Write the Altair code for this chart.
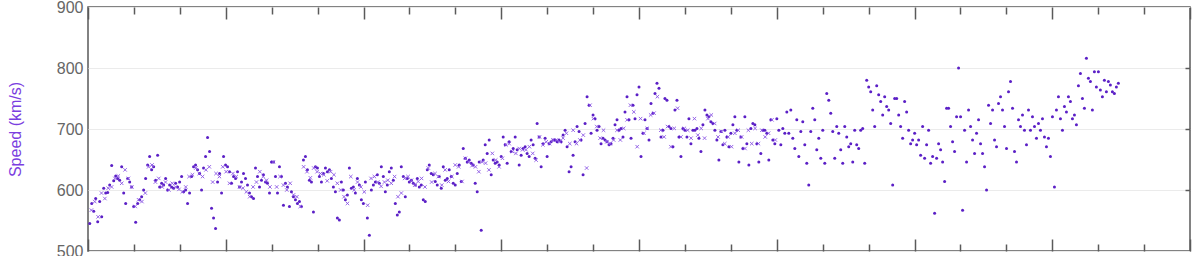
import altair as alt
import pandas as pd

# Solar-wind speed samples (km/s), six consecutive ~30 h stretches
seg1 = [545, 578, 565, 586, 548, 581, 556, 603, 595, 596, 608, 640, 615, 623, 619,
        616, 638, 595, 578, 619, 613, 605, 573, 547, 578, 584, 589, 600, 619, 641,
        655, 633, 638, 616, 657, 605, 611, 608, 619, 600, 608, 605, 603, 611, 605,
        613, 622, 597, 600, 578, 595, 622, 638, 641, 633, 627, 600, 636, 655, 686,
        663, 570, 554, 537, 613, 627, 595, 655, 641, 638, 630, 611, 622, 619, 630,
        605, 613, 627, 619, 608, 595, 589, 586, 636, 622, 605]
seg2 = [616, 625, 613, 611, 595, 646, 646, 622, 595, 638, 622, 575, 611, 605, 573,
        597, 589, 584, 578, 581, 573, 649, 655, 633, 616, 613, 564, 638, 636, 622,
        613, 627, 636, 630, 633, 619, 605, 597, 554, 551, 613, 600, 584, 592, 636,
        603, 605, 595, 619, 608, 584, 578, 613, 554, 526, 600, 608, 613, 625, 611,
        638, 622, 597, 608, 630, 636, 616, 578, 559, 564, 638, 622, 589, 619, 613,
        616, 611, 608, 619, 605, 608, 584, 581, 633, 641, 627]
seg3 = [625, 614, 608, 622, 603, 638, 616, 619, 633, 622, 611, 608, 627, 641, 614,
        668, 652, 646, 649, 644, 641, 611, 597, 646, 534, 649, 674, 660, 682, 625,
        649, 644, 646, 641, 655, 687, 674, 644, 679, 663, 668, 687, 666, 641, 657,
        668, 671, 660, 655, 682, 674, 652, 709, 687, 638, 676, 685, 655, 676, 679,
        682, 682, 679, 682, 679, 690, 698, 671, 630, 638, 657, 679, 704, 696, 682,
        625, 709, 753, 739, 693, 723, 717, 698, 704, 676, 685]
seg4 = [682, 679, 674, 676, 685, 707, 715, 698, 701, 687, 728, 753, 715, 685, 739,
        717, 756, 769, 655, 693, 715, 701, 682, 742, 726, 758, 775, 767, 687, 698,
        750, 747, 704, 701, 671, 731, 747, 687, 655, 701, 698, 687, 717, 676, 698,
        698, 701, 685, 663, 707, 731, 723, 720, 712, 709, 698, 682, 649, 696, 674,
        698, 687, 671, 693, 707, 720, 698, 646, 687, 668, 720, 676, 641, 701, 709,
        707, 676, 646, 660, 698, 698, 693, 649, 715, 682, 676]
seg5 = [717, 698, 674, 701, 693, 728, 693, 731, 685, 668, 715, 655, 696, 712, 674,
        644, 608, 696, 734, 715, 666, 685, 652, 698, 644, 758, 747, 726, 696, 652,
        704, 693, 666, 644, 704, 687, 671, 676, 646, 698, 674, 668, 698, 701, 644,
        780, 769, 761, 731, 704, 771, 756, 745, 723, 753, 737, 731, 709, 608, 750,
        750, 723, 704, 685, 745, 728, 698, 676, 682, 693, 674, 682, 657, 704, 652,
        674, 698, 644, 655, 562, 652, 676, 666, 646, 614, 734]
seg6 = [734, 704, 679, 663, 720, 800, 720, 567, 698, 646, 731, 704, 682, 660, 693,
        715, 676, 660, 638, 600, 739, 709, 731, 682, 671, 742, 753, 731, 704, 668,
        761, 778, 734, 663, 646, 715, 704, 723, 698, 674, 731, 698, 720, 704, 685,
        709, 698, 717, 687, 671, 685, 655, 720, 605, 731, 753, 717, 698, 737, 728,
        753, 745, 717, 723, 707, 771, 791, 750, 734, 816, 783, 778, 731, 794, 769,
        794, 764, 753, 780, 761, 778, 772, 761, 758, 769, 775]

# second instrument (drawn as small crosses), first four stretches only
cross1 = [567, 581, 556, 595, 586, 603, 605, 619, 623, 611, 633, 619, 605, 573, 584,
          581, 595, 638, 641, 613, 619, 605, 613, 600, 611, 605, 601, 597, 605, 622,
          625, 636, 627, 622, 633, 638, 613, 627, 622, 638, 630, 611, 627, 622, 605,
          603, 597, 589, 605, 613, 630]
cross2 = [622, 616, 605, 646, 605, 622, 608, 600, 611, 592, 589, 573, 638, 630, 620,
          636, 630, 627, 625, 615, 630, 625, 611, 600, 589, 578, 622, 600, 613, 605,
          597, 575, 619, 622, 613, 606, 613, 616, 611, 622, 589, 595, 619, 622, 616,
          608, 614, 619, 605, 636, 613]
cross3 = [627, 622, 608, 633, 614, 622, 641, 638, 614, 652, 646, 640, 638, 630, 646,
          644, 633, 660, 649, 638, 652, 674, 676, 663, 660, 668, 666, 666, 671, 660,
          649, 687, 674, 679, 676, 682, 682, 679, 685, 693, 676, 698, 676, 682, 690,
          636, 739, 717, 704, 685, 698]
cross4 = [679, 676, 682, 698, 682, 701, 715, 739, 728, 671, 717, 693, 701, 723, 726,
          753, 698, 687, 704, 671, 701, 734, 687, 701, 698, 685, 717, 690, 701, 685,
          717, 723, 709, 687, 696, 676, 687, 671, 693, 698, 687, 668, 698, 676, 701,
          676, 698, 687, 693, 715, 682]

speed = seg1 + seg2 + seg3 + seg4 + seg5 + seg6
speed_x = cross1 + cross2 + cross3 + cross4
sample_hours = 0.348          # sampling interval of the dot series (hours)
cross_hours = 0.587           # sampling interval of the cross series (hours)
first_hour = 0.3
hours = [first_hour + i * sample_hours for i in range(len(speed))]
hours_x = [first_hour + 0.29 + i * cross_hours for i in range(len(speed_x))]

major_ticks = [0, 24, 48, 72, 96, 120, 144, 168, 192]
minor_ticks = [h for h in range(0, 193, 8) if h % 24 != 0]
y_ticks = [500, 600, 700, 800, 900]

df = pd.DataFrame({"hour": hours, "speed": speed})
dfx = pd.DataFrame({"hour": hours_x, "speed": speed_x})
tick_df = pd.DataFrame({"hour": major_ticks + minor_ticks})

AXIS_GREY = "#5a5a5a"
xscale = alt.Scale(domain=[0, 192], nice=False, zero=False)
yscale = alt.Scale(domain=[500, 900], nice=False, zero=False)


def tick_axis(orient, values, size):
    return alt.Axis(orient=orient, values=values, labels=False, title=None,
                    domain=False, grid=False, tickColor=AXIS_GREY, tickWidth=1.5,
                    tickSize=alt.ExprRef(expr=str(-size)))


points = alt.Chart(df).mark_circle(size=9, color="#5b1fc6", opacity=1).encode(
    x=alt.X("hour:Q", scale=xscale, axis=tick_axis("bottom", major_ticks, 12)),
    y=alt.Y("speed:Q", scale=yscale,
            axis=alt.Axis(orient="left", values=y_ticks, title="Speed (km/s)",
                          grid=True, gridColor="#ebebeb", gridWidth=1,
                          domain=False, ticks=False, labelPadding=5,
                          labelColor="#666666", labelFontSize=16,
                          labelFont="Liberation Sans",
                          titleColor="#7b3ee0", titleFontSize=16,
                          titleFont="Liberation Sans", titleFontWeight="normal",
                          titleX=-73, titleY=122, titleAlign="center",
                          titleBaseline="middle")),
)

crosses = alt.Chart(dfx).mark_point(
    shape="M-1,-1L1,1M-1,1L1,-1", size=12, filled=False,
    color="#8a55e4", strokeWidth=0.9, opacity=1,
).encode(
    x=alt.X("hour:Q", scale=xscale, axis=None),
    y=alt.Y("speed:Q", scale=yscale, axis=None),
)


def ghost(orient, values, size):
    return alt.Chart(tick_df).mark_point(opacity=0).encode(
        x=alt.X("hour:Q", scale=xscale, axis=tick_axis(orient, values, size)),
    )


bottom_minor = ghost("bottom", minor_ticks, 7)
top_major = ghost("top", major_ticks, 12)
top_minor = ghost("top", minor_ticks, 7)

right_axis = alt.Chart(pd.DataFrame({"v": y_ticks})).mark_point(opacity=0).encode(
    y=alt.Y("v:Q", scale=yscale,
            axis=alt.Axis(orient="right", values=[600, 700, 800], labels=False,
                          title=None, domain=False, grid=False,
                          tickColor=AXIS_GREY, tickWidth=1.5,
                          tickSize=alt.ExprRef(expr="-5"))),
)

chart = alt.layer(points, crosses, bottom_minor, top_major, top_minor, right_axis).resolve_axis(
    x="independent", y="independent"
).properties(
    width=1102, height=244,
    autosize=alt.AutoSizeParams(type="none"),
    padding={"left": 88, "top": 7, "right": 10, "bottom": 5},
    background="white",
).configure_view(stroke=AXIS_GREY, strokeWidth=1.5)

chart.save("out.html", embed_options={"renderer": "svg", "actions": False})
